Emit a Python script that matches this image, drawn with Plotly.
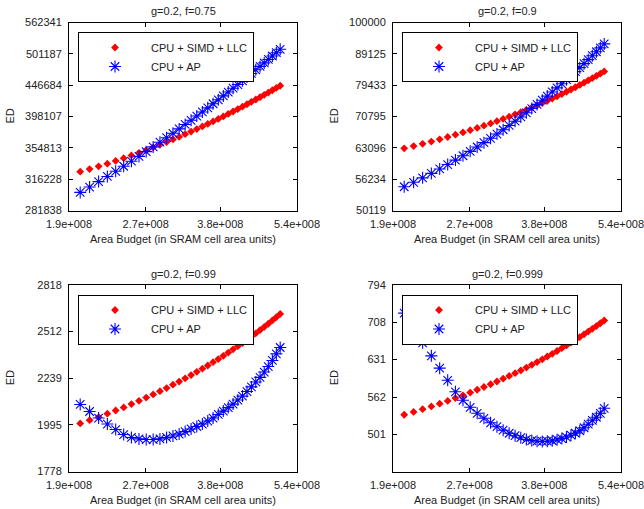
import plotly.graph_objects as go
import math

# ---------------- data ----------------
area_budget = [2.000e8, 2.088e8, 2.176e8, 2.265e8, 2.353e8, 2.441e8, 2.529e8, 2.618e8, 2.706e8,
               2.794e8, 2.882e8, 2.971e8, 3.059e8, 3.147e8, 3.235e8, 3.324e8, 3.412e8, 3.500e8,
               3.588e8, 3.676e8, 3.765e8, 3.853e8, 3.941e8, 4.029e8, 4.118e8, 4.206e8, 4.294e8,
               4.382e8, 4.471e8, 4.559e8, 4.647e8, 4.735e8, 4.824e8, 4.912e8, 5.000e8]

series_names = ["CPU + SIMD + LLC", "CPU + AP"]
panel_titles = ["g=0.2, f=0.75", "g=0.2, f=0.9", "g=0.2, f=0.99", "g=0.2, f=0.999"]

p1_simd = [325000, 328200, 331500, 334800, 338200, 341600, 345000, 348400, 351900, 355400, 358900,
           362400, 365900, 369500, 373100, 376600, 380200, 383800, 387400, 391000, 394600, 398200,
           401900, 405500, 409100, 412800, 416400, 420100, 423800, 427400, 431100, 434700, 438400,
           442100, 445700]
p1_ap = [301200, 307200, 313400, 319400, 325500, 331600, 337800, 343800, 349900, 356000, 362200,
         368300, 374300, 380400, 386600, 392600, 398800, 404800, 411000, 417200, 423300, 429400,
         435500, 441700, 447700, 453900, 460200, 466300, 472600, 478600, 484800, 490900, 497200,
         503300, 509600]
p2_simd = [62980, 63500, 64030, 64570, 65100, 65660, 66210, 66760, 67320, 67880, 68450, 69020,
           69590, 70170, 70760, 71360, 71940, 72540, 73150, 73760, 74370, 74990, 75620, 76250,
           76880, 77540, 78180, 78830, 79490, 80150, 80820, 81490, 82170, 82850, 83540]
p2_ap = [54690, 55590, 56510, 57440, 58390, 59340, 60310, 61290, 62290, 63290, 64310, 65340,
         66380, 67430, 68500, 69580, 70670, 71770, 72890, 74020, 75160, 76310, 77480, 78650,
         79840, 81040, 82260, 83480, 84720, 85970, 87240, 88520, 89810, 91110, 92430]
p3_simd = [2002, 2018, 2034, 2051, 2067, 2083, 2100, 2117, 2134, 2151, 2168, 2185, 2203, 2220,
           2238, 2256, 2274, 2292, 2310, 2329, 2347, 2366, 2385, 2404, 2423, 2442, 2462, 2481,
           2501, 2521, 2541, 2561, 2582, 2603, 2624]
p3_ap = [2098, 2062, 2029, 1999, 1972, 1948, 1934, 1927, 1924, 1924, 1927, 1934, 1941, 1950,
         1962, 1975, 1987, 1999, 2014, 2029, 2047, 2064, 2082, 2100, 2121, 2142, 2166, 2191,
         2218, 2243, 2273, 2304, 2339, 2377, 2415]
p4_simd = [532.4, 537.0, 541.6, 546.2, 550.8, 555.6, 560.4, 565.2, 570.1, 575.0, 579.9, 584.8,
           589.8, 594.9, 600.0, 605.1, 610.3, 615.7, 620.9, 626.2, 631.6, 637.0, 642.4, 647.9,
           653.5, 659.1, 664.7, 670.4, 676.3, 682.1, 687.9, 693.8, 699.7, 705.7, 711.8]
p4_ap = [728.0, 694.7, 664.4, 638.3, 614.6, 592.0, 571.4, 556.7, 544.8, 534.8, 526.6, 519.4,
         513.1, 507.6, 502.9, 499.1, 496.0, 493.4, 491.7, 490.7, 490.4, 490.7, 491.4, 493.0,
         494.8, 497.1, 499.9, 502.9, 506.8, 511.5, 517.1, 523.4, 528.3, 534.8, 543.1]

x_tick_vals = [1.9e8, 2.7e8, 3.8e8, 5.4e8]
x_tick_text = ["1.9e+008", "2.7e+008", "3.8e+008", "5.4e+008"]
y_ticks_p1 = [281838, 316228, 354813, 398107, 446684, 501187, 562341]
y_ticks_p2 = [50119, 56234, 63096, 70795, 79433, 89125, 100000]
y_ticks_p3 = [1778, 1995, 2239, 2512, 2818]
y_ticks_p4 = [501, 562, 631, 708, 794]
y_range_p4 = [447, 794]

x_title = "Area Budget (in SRAM cell area units)"
y_title = "ED"

# ---------------- layout ----------------
W, H = 644, 509
FONT = "Liberation Sans, Arial, sans-serif"
TXT = "#222222"

# plot area boxes in pixels: (left, right, top, bottom)
boxes = [(69, 297, 22.5, 210.5), (393, 621, 22.5, 210.5),
         (69, 297, 285, 471.5), (393, 621, 285, 471.5)]

panels = [
    (p1_simd, p1_ap, y_ticks_p1, [y_ticks_p1[0], y_ticks_p1[-1]]),
    (p2_simd, p2_ap, y_ticks_p2, [y_ticks_p2[0], y_ticks_p2[-1]]),
    (p3_simd, p3_ap, y_ticks_p3, [y_ticks_p3[0], y_ticks_p3[-1]]),
    (p4_simd, p4_ap, y_ticks_p4, y_range_p4),
]

fig = go.Figure()
annotations = []
layout = {}

for k, (simd, ap, yt, yr) in enumerate(panels, start=1):
    sfx = "" if k == 1 else str(k)
    leg = "legend" if k == 1 else f"legend{k}"
    fig.add_trace(go.Scatter(
        x=area_budget, y=simd, mode="markers", name=series_names[0],
        marker=dict(symbol="diamond", size=6, color="#ff0000", line=dict(width=0)),
        xaxis="x" + sfx, yaxis="y" + sfx, legend=leg))
    fig.add_trace(go.Scatter(
        x=area_budget, y=ap, mode="markers", name=series_names[1],
        marker=dict(symbol="asterisk-open", size=10, color="#0000ff",
                    line=dict(width=1.1, color="#0000ff")),
        xaxis="x" + sfx, yaxis="y" + sfx, legend=leg))

    l, r, t, b = boxes[k - 1]
    common = dict(type="log", showline=True, linecolor="black", linewidth=1,
                  mirror="allticks", ticks="inside", ticklen=4, tickcolor="black",
                  showgrid=False, zeroline=False, automargin=False,
                  ticklabeloverflow="allow",
                  tickfont=dict(family=FONT, size=11, color=TXT))
    layout["xaxis" + sfx] = dict(
        common, domain=[l / W, r / W], anchor="y" + sfx,
        range=[math.log10(x_tick_vals[0]), math.log10(x_tick_vals[-1])],
        tickvals=x_tick_vals, ticktext=x_tick_text, ticklabelstandoff=3)
    layout["yaxis" + sfx] = dict(
        common, domain=[1 - b / H, 1 - t / H], anchor="x" + sfx,
        range=[math.log10(yr[0]), math.log10(yr[1])],
        tickvals=yt, ticktext=[str(v) for v in yt], ticklabelstandoff=4)

    layout[leg] = dict(
        x=(l + 9) / W, y=1 - (t + 9.5) / H, xanchor="left", yanchor="top",
        bgcolor="white", bordercolor="black", borderwidth=1,
        font=dict(family=FONT, size=11, color=TXT), itemwidth=62,
        tracegroupgap=0)

    cx = (l + r) / 2 / W
    annotations.append(dict(text=panel_titles[k - 1], x=cx, y=1 - (t - 11.5) / H,
                            xref="paper", yref="paper", showarrow=False,
                            xanchor="center", yanchor="middle",
                            font=dict(family=FONT, size=11, color=TXT)))
    annotations.append(dict(text=x_title, x=cx, y=1 - (b + 28.5) / H,
                            xref="paper", yref="paper", showarrow=False,
                            xanchor="center", yanchor="middle",
                            font=dict(family=FONT, size=11, color=TXT)))
    annotations.append(dict(text=y_title, x=(l - 59) / W, y=1 - (t + b) / 2 / H,
                            xref="paper", yref="paper", showarrow=False, textangle=-90,
                            xanchor="center", yanchor="middle",
                            font=dict(family=FONT, size=11, color=TXT)))

fig.update_layout(
    width=W, height=H, margin=dict(l=0, r=0, t=0, b=0, autoexpand=False),
    paper_bgcolor="white", plot_bgcolor="white",
    showlegend=True, annotations=annotations, **layout)

fig.write_html("out.html")
